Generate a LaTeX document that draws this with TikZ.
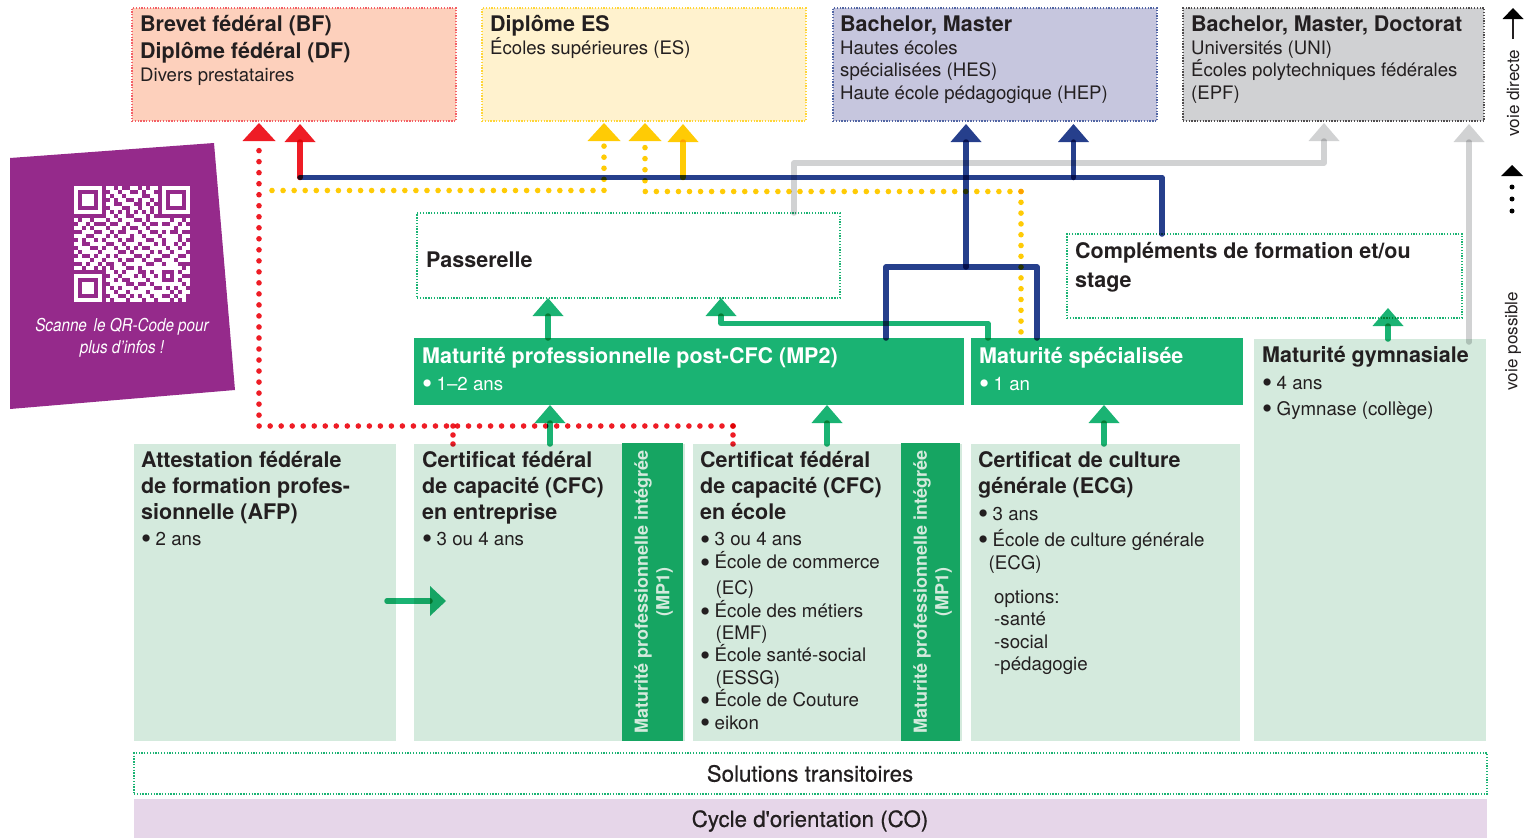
\documentclass[tikz,border=0pt]{standalone}
\usepackage{fontspec}
\setmainfont{TeX Gyre Heros}
\newfontfamily\medfont[FakeBold=0.5]{TeX Gyre Heros}
\usetikzlibrary{arrows.meta,calc}
\definecolor{ink}{HTML}{231F20}
\definecolor{cred}{HTML}{EE1C25}
\definecolor{cyel}{HTML}{FFCB05}
\definecolor{cblue}{HTML}{263F8C}
\definecolor{cgrey}{HTML}{D1D2D3}
\definecolor{cgreen}{HTML}{1AB373}
\definecolor{cbar}{HTML}{16A562}
\definecolor{cpale}{HTML}{D4EADD}
\definecolor{cpurple}{HTML}{952A8B}
\newcommand{\hd}[1]{{\fontsize{21.5}{23}\bfseries #1}}
\newcommand{\bu}{\makebox[14.5pt][l]{\fontsize{29}{23}\selectfont\raisebox{-3.6pt}{•}}}
\newcommand{\hg}{\hspace*{15.5pt}}
\newcount\qrx \newcount\qry
\def\qrrow#1{\qrx=0 \qrparse#1\relax\advance\qry by 1 }
\def\qrparse#1{\ifx#1\relax\else\if#11\fill[white] (74+4*\the\qrx-.05,186+4*\the\qry-.05) rectangle (78.05+4*\the\qrx,190.05+4*\the\qry);\fi\advance\qrx by 1 \expandafter\qrparse\fi}
\tikzset{
  x=1pt,y=-1pt,
  boxn/.style={anchor=north west,inner sep=0pt,outer sep=0pt,minimum width=#1},
  paleb/.style={fill=cpale},
  greenb/.style={fill=cgreen},
  dotb/.style={draw=#1,line width=1.3pt,dash pattern=on 1.3pt off 1.5pt},
  txt/.style={anchor=base west,inner sep=0pt,align=left,text=ink,font=\fontsize{18.7}{23}\selectfont},
  toptxt/.style={txt,font=\fontsize{18.6}{23}\selectfont},
  wtxt/.style={txt,text=white},
  mptxt/.style={inner sep=0pt,align=center,rotate=90,text=cpale,font=\fontsize{18}{21.5}\bfseries},
  lgd/.style={inner sep=0pt,rotate=90,text=ink,font=\fontsize{17.1}{20}\selectfont},
  solidc/.style={line width=5.5pt,draw=#1,line join=round,line cap=round,blend mode=multiply},
  dotc/.style={line width=5.6pt,draw=#1,line cap=round,blend mode=multiply},
  atip/.style={-{Triangle[width=31pt,length=18pt,fill=#1,line width=0pt]}},
  btip/.style={-{Triangle[width=33pt,length=18pt,fill=#1,line width=0pt]}},
}
\begin{document}
\begin{tikzpicture}
\useasboundingbox (0,0) rectangle (1526,838);
% top boxes
\node[boxn=324pt,minimum height=113pt,fill={rgb,255:red,253;green,208;blue,188},dotb=cred!70] (bf) at (132,8) {};
\node[boxn=324pt,minimum height=113pt,fill={rgb,255:red,255;green,242;blue,206},dotb=cyel!80] (es) at (482,8) {};
\node[boxn=324pt,minimum height=113pt,fill={rgb,255:red,198;green,198;blue,222},dotb=cblue!80] (bm) at (833,8) {};
\node[boxn=301pt,minimum height=113pt,fill={rgb,255:red,208;green,209;blue,211},dotb=ink!80] (uni) at (1183,8) {};
\node[toptxt] (bft) at (140,81) {\hd{Brevet fédéral (BF)}\\[4pt]\hd{Diplôme fédéral (DF)}\\ Divers prestataires};
\node[toptxt] (est) at (490,54) {\hd{Diplôme ES}\\ Écoles supérieures (ES)};
\node[toptxt] (bmt) at (840,99) {\hd{Bachelor, Master}\\ Hautes écoles\\[-1pt] spécialisées (HES)\\ Haute école pédagogique (HEP)};
\node[toptxt] (unit) at (1191,99) {\hd{Bachelor, Master, Doctorat}\\ Universités (UNI)\\[-1pt] Écoles polytechniques fédérales\\ (EPF)};
% purple panel
\fill[cpurple] (10,158) -- (214,143) -- (235,390) -- (10,409) -- cycle;
\qry=0
\qrrow{11111110110100110101101111111}
\qrrow{10000010011011001011001000001}
\qrrow{10111010101101111001101011101}
\qrrow{10111010010110010110101011101}
\qrrow{10111010110011100101001011101}
\qrrow{10000010011100110110101000001}
\qrrow{11111110101010101010101111111}
\qrrow{00000000110110011101000000000}
\qrrow{10110111011011100101111101101}
\qrrow{01101000100110111010010011010}
\qrrow{11010111011101001101111110111}
\qrrow{00111001101001110110010100100}
\qrrow{11100111010111011011101111011}
\qrrow{01011010111010011100110111010}
\qrrow{11001111001101110111010110101}
\qrrow{01110010110110101001111011011}
\qrrow{10111101111001011110101101110}
\qrrow{01001011010111100101110011001}
\qrrow{11110110111010011011001110111}
\qrrow{00101101001101111100110111000}
\qrrow{11011010101110010111111111101}
\qrrow{00000000110101110010110001011}
\qrrow{11111110011011101011010101100}
\qrrow{10000010110100111101110001011}
\qrrow{10111010011110010010111111101}
\qrrow{10111010101011101111001010110}
\qrrow{10111010110110111101111101011}
\qrrow{10000010011001010110110010110}
\qrrow{11111110101110111011011101010}
\node[inner sep=0pt,align=center,text=white,font=\fontsize{17.7}{22}\selectfont\itshape,xscale=.86] (qrt) at (122,338) {Scanne\, le QR-Code pour\\ plus d’infos !};
% middle boxes
\node[boxn=423pt,minimum height=85pt,dotb=cgreen] (pass) at (417,213) {};
\node[boxn=395pt,minimum height=84pt,dotb=cgreen] (comp) at (1067,234) {};
\node[txt] (passt) at (426,267) {\hd{Passerelle}};
\node[txt] (compt) at (1075,287) {\hd{Compléments de formation et/ou}\\[6pt]\hd{stage}};
\node[boxn=550pt,minimum height=67pt,greenb] (mp2) at (414,338) {};
\node[boxn=272pt,minimum height=67pt,greenb] (ms) at (971,338) {};
\node[wtxt] (mp2t) at (422,390) {\hd{Maturité professionnelle post-CFC (MP2)}\\[4pt] \bu 1–2 ans};
\node[wtxt] (mst) at (979,390) {\hd{Maturité spécialisée}\\[4pt] \bu 1 an};
% lower boxes
\node[boxn=232pt,minimum height=402pt,paleb] (mg) at (1254,339) {};
\node[boxn=262pt,minimum height=297pt,paleb] (afp) at (134,444) {};
\node[boxn=271pt,minimum height=297pt,paleb] (cfca) at (414,444) {};
\node[boxn=269pt,minimum height=297pt,paleb] (cfcb) at (693,444) {};
\node[boxn=269pt,minimum height=297pt,paleb] (ecg) at (971,444) {};
\node[boxn=61pt,minimum height=298pt,fill=cbar] (bara) at (622,443) {};
\node[boxn=59pt,minimum height=298pt,fill=cbar] (barb) at (901,443) {};
\node[mptxt] (baratxt) at (653.7,592) {Maturité professionnelle intégrée\\(MP1)};
\node[mptxt] (barbtxt) at (932.7,592) {Maturité professionnelle intégrée\\(MP1)};
\node[txt] (mgt) at (1262,415) {\hd{Maturité gymnasiale}\\[4pt]\bu 4 ans\\[3pt]\bu Gymnase (collège)};
\node[txt] (afpt) at (141,545) {\hd{Attestation fédérale}\\[3pt]\hd{de formation profes-}\\[3pt]\hd{sionnelle (AFP)}\\[3pt]\bu 2 ans};
\node[txt] (cfcat) at (422,545) {\hd{Certificat fédéral}\\[3pt]\hd{de capacité (CFC)}\\[3pt]\hd{en entreprise}\\[3pt]\bu 3 ou 4 ans};
\node[txt] (cfcbt) at (700,729) {\hd{Certificat fédéral}\\[3pt]\hd{de capacité (CFC)}\\[3pt]\hd{en école}\\[3pt]\bu 3 ou 4 ans\\ \bu École de commerce\\[3pt]\hg(EC)\\[0pt]\bu École des métiers\\[-1pt]\hg(EMF)\\[-1pt]\bu École santé-social\\ \hg(ESSG)\\[-1pt]\bu École de Couture\\[-.5pt] \bu eikon};
\node[txt] (ecgt) at (978,670) {\hd{Certificat de culture}\\[3pt]\hd{générale (ECG)}\\[4pt]\bu 3 ans\\[3pt]\bu École de culture générale\\ \hspace*{10.5pt}(ECG)\\[11pt]\hspace*{16pt}options:\\[-1pt]\hspace*{16pt}-santé\\ \hspace*{16pt}-social\\[-1pt]\hspace*{16pt}-pédagogie};
% bottom
\node[boxn=1353pt,minimum height=41pt,dotb=cgreen] (sol) at (134,753) {};
\node[boxn=1353pt,minimum height=39pt,fill={rgb,255:red,230;green,214;blue,233}] (co) at (134,799) {};
\node[inner sep=0pt,text=ink,font=\fontsize{22.3}{24}\medfont] (solt) at (810,773.5) {Solutions transitoires};
\node[inner sep=0pt,text=ink,font=\fontsize{22.3}{24}\medfont] (cot) at (810,821) {Cycle d'orientation (CO)};
% named points of the connectors
\coordinate (tR1) at (259,123); \coordinate (tR2) at (300,124);
\coordinate (tY1) at (604,123); \coordinate (tY2) at (645,123); \coordinate (tY3) at (683,124);
\coordinate (tB1) at (966,124); \coordinate (tB2) at (1073.5,124);
\coordinate (tG1) at (1324,123); \coordinate (tG2) at (1469,124);
\coordinate (blL) at (300,177.5); \coordinate (blR) at (1162,177.5);
\coordinate (brJ) at (966,267); \coordinate (brL) at (886,267); \coordinate (brR) at (1037,267);
\coordinate (grA) at (794,163);
\coordinate (rdA) at (259,426); \coordinate (rdB) at (733,426); \coordinate (rdC) at (453,426);
\coordinate (yeA) at (272,190.5); \coordinate (yeB) at (604,190.5);
\coordinate (yeC) at (645,191.5); \coordinate (yeD) at (1021,191.5);
\coordinate (gnT) at (721,298); \coordinate (gnA) at (721,323.5); \coordinate (gnB) at (988,323.5);
\coordinate (gaT) at (548,298); \coordinate (gbT) at (1388,308);
\coordinate (gcT) at (550,405); \coordinate (gdT) at (827,405); \coordinate (geT) at (1104,405);
\coordinate (hzA) at (387,601); \coordinate (hzT) at (446,601);
% grey
\draw[solidc=cgrey,atip=cgrey] (grA |- pass.north) -- (grA) -- (tG1 |- grA) -- (tG1);
\draw[solidc=cgrey,atip=cgrey] (tG2 |- mg.north) ++(0,3) -- (tG2);
% yellow
\draw[dotc=cyel,dash pattern=on 0pt off 11.07pt,btip=cyel] (yeA) -- (yeB) -- (tY1);
\draw[dotc=cyel,dash pattern=on 0pt off 11.05pt,btip=cyel] (yeD) -- (yeC) -- (tY2);
\draw[dotc=cyel,dash pattern=on 0pt off 10.8pt] (yeD) -- (yeD |- ms.north);
\draw[solidc=cyel,atip=cyel] (tY3 |- blL) -- (tY3);
% green
\draw[solidc=cgreen,atip=cgreen] (gnB |- ms.north) -- (gnB) -- (gnA) -- (gnT);
\draw[solidc=cgreen,atip=cgreen] (gaT |- mp2.north) -- (gaT);
\draw[solidc=cgreen,atip=cgreen] (gbT |- mg.north) -- (gbT);
\draw[solidc=cgreen,atip=cgreen] (gcT |- cfca.north) -- (gcT);
\draw[solidc=cgreen,atip=cgreen] (gdT |- cfcb.north) -- (gdT);
\draw[solidc=cgreen,atip=cgreen] (geT |- ecg.north) -- (geT);
\draw[line width=5.5pt,draw=cgreen,line cap=round,blend mode=multiply,-{Triangle[width=30pt,length=16pt,fill=cgreen,line width=0pt]}] (hzA) -- (hzT);
% blue
\draw[solidc=cblue] (blR |- comp.north) -- (blR) -- (blL);
\draw[solidc=cblue,atip=cblue] (brJ) -- (tB1);
\draw[solidc=cblue,atip=cblue] (tB2 |- blL) -- (tB2);
\draw[solidc=cblue] (brL |- mp2.north) -- (brL) -- (brR) -- (brR |- ms.north);
% red
\draw[solidc=cred,atip=cred] (blL) -- (tR2);
\draw[dotc=cred,dash pattern=on 0pt off 11.02pt,btip=cred] (rdB) -- (rdA) -- (tR1);
\draw[dotc=cred,dash pattern=on 0pt off 9pt] (rdB |- cfcb.north) -- (rdB);
\draw[dotc=cred,dash pattern=on 0pt off 9pt] (rdC |- cfca.north) -- (rdC);
% legend
\coordinate (lgT) at (1513,8); \coordinate (lgS) at (1513,39);
\draw[line width=2pt,draw=ink,-{Triangle[width=21pt,length=11pt,fill=black,line width=0pt]}] (lgS) -- (lgT);
\coordinate (ldT) at (1512,165); \coordinate (ldB) at (1512,176); \coordinate (ldE) at (1512,211);
\fill[black] (ldT) -- ++(11,11) -- ++(-22,0) -- cycle;
\draw[line width=5pt,line cap=round,dash pattern=on 0pt off 12pt] (ldE) -- (ldB);
\node[lgd] (vd) at (1513,93) {voie directe};
\node[lgd] (vp) at (1513,341) {voie possible};
\end{tikzpicture}
\end{document}
